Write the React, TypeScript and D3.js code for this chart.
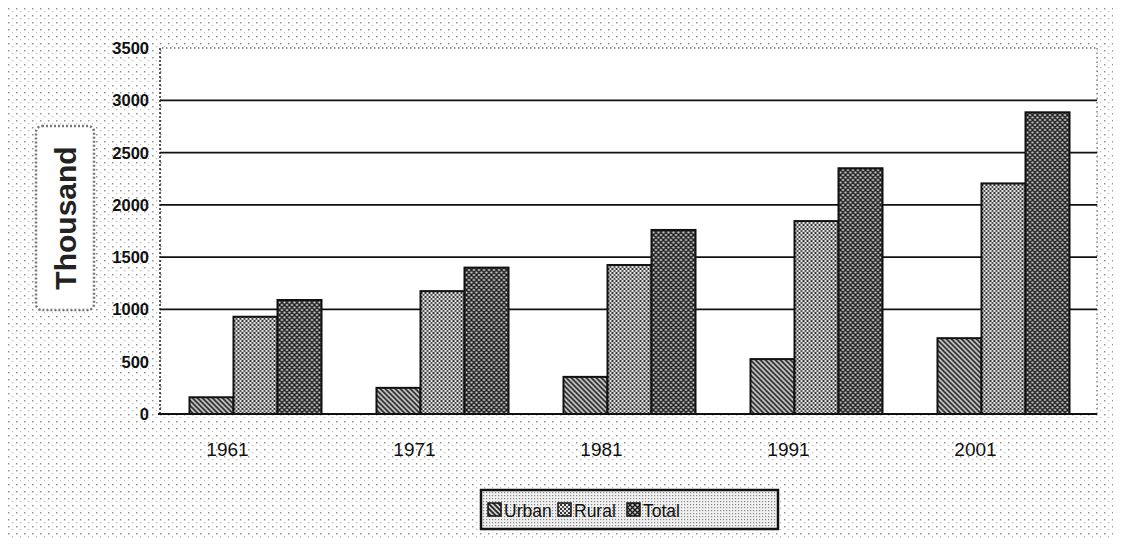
import React, { useEffect, useRef } from 'react'
import * as d3 from 'd3'

// data (thousands)
const years = ['1961', '1971', '1981', '1991', '2001']
const seriesNames = ['Urban', 'Rural', 'Total']
const urban = [160, 250, 355, 525, 725]
const rural = [930, 1175, 1425, 1845, 2205]
const total = [1090, 1400, 1760, 2350, 2885]
const yTicks = [0, 500, 1000, 1500, 2000, 2500, 3000, 3500]
const gridTicks = [1000, 1500, 2000, 2500, 3000]

const W = 1121
const H = 546
const FONT = 'Liberation Sans, Arial, sans-serif'

function drawChart(node: SVGSVGElement) {
  const svg = d3.select(node)
  svg.selectAll('*').remove()

  const defs = svg.append('defs')

  // stippled paper background
  const stip = defs.append('pattern').attr('id', 'stip')
    .attr('width', 8).attr('height', 7).attr('patternUnits', 'userSpaceOnUse')
  stip.append('rect').attr('x', 0).attr('y', 1).attr('width', 1.5).attr('height', 1.5).attr('fill', '#666')
  stip.append('rect').attr('x', 4).attr('y', 4).attr('width', 1.2).attr('height', 1.2).attr('fill', '#999')

  // legend box fill
  const lgFill = defs.append('pattern').attr('id', 'lgfill')
    .attr('width', 3).attr('height', 3).attr('patternUnits', 'userSpaceOnUse')
  lgFill.append('rect').attr('width', 3).attr('height', 3).attr('fill', '#f0f0f0')
  lgFill.append('rect').attr('width', 1.2).attr('height', 1.2).attr('fill', '#888')

  // urban: diagonal hatch
  const pU = defs.append('pattern').attr('id', 'pUrban')
    .attr('width', 5).attr('height', 5).attr('patternUnits', 'userSpaceOnUse')
  pU.append('rect').attr('width', 5).attr('height', 5).attr('fill', '#d0d0d0')
  pU.append('path').attr('d', 'M-1,-1 L6,6 M-1,4 L1,6 M4,-1 L6,1')
    .attr('stroke', '#222').attr('stroke-width', 1.7)

  // rural: check of dots
  const pR = defs.append('pattern').attr('id', 'pRural')
    .attr('width', 4).attr('height', 4).attr('patternUnits', 'userSpaceOnUse')
  pR.append('rect').attr('width', 4).attr('height', 4).attr('fill', '#e4e4e4')
  pR.append('rect').attr('x', 0).attr('y', 0).attr('width', 2).attr('height', 2).attr('fill', '#333')
  pR.append('rect').attr('x', 2).attr('y', 2).attr('width', 2).attr('height', 2).attr('fill', '#555')

  // total: dark crosshatch
  const pT = defs.append('pattern').attr('id', 'pTotal')
    .attr('width', 5).attr('height', 5).attr('patternUnits', 'userSpaceOnUse')
  pT.append('rect').attr('width', 5).attr('height', 5).attr('fill', '#c4c4c4')
  pT.append('path').attr('d', 'M-1,-1 L6,6 M6,-1 L-1,6')
    .attr('stroke', '#1a1a1a').attr('stroke-width', 1.4)

  const fills = ['url(#pUrban)', 'url(#pRural)', 'url(#pTotal)']

  // background + frame
  svg.append('rect').attr('width', W).attr('height', H).attr('fill', '#fff')
  svg.append('rect').attr('width', W).attr('height', H).attr('fill', 'url(#stip)').attr('opacity', 0.7)
  svg.append('rect').attr('x', 4).attr('y', 2).attr('width', W - 7).attr('height', H - 6)
    .attr('fill', 'none').attr('stroke', '#111').attr('stroke-width', 2)

  const x = d3.scaleBand<string>().domain(years).range([162, 1097])
    .paddingInner(0.294).paddingOuter(0.147)
  const xs = d3.scaleBand<string>().domain(seriesNames).range([0, x.bandwidth()])
  const y = d3.scaleLinear().domain([0, 3500]).range([414, 48])

  // plot area
  svg.append('rect').attr('x', 162).attr('y', y(3500)).attr('width', 935).attr('height', y(0) - y(3500))
    .attr('fill', '#fff')
  svg.append('line').attr('x1', 162).attr('x2', 1097).attr('y1', y(3500)).attr('y2', y(3500))
    .attr('stroke', '#333').attr('stroke-dasharray', '1.5,2.5')
  svg.append('line').attr('x1', 1097).attr('x2', 1097).attr('y1', y(3500)).attr('y2', y(0))
    .attr('stroke', '#444').attr('stroke-dasharray', '1.5,3')

  svg.append('g').selectAll('line').data(gridTicks).enter().append('line')
    .attr('x1', 160).attr('x2', 1097)
    .attr('y1', d => y(d)).attr('y2', d => y(d))
    .attr('stroke', '#111').attr('stroke-width', 1.7)

  // y axis
  svg.append('line').attr('x1', 160).attr('x2', 160).attr('y1', y(3500)).attr('y2', y(0))
    .attr('stroke', '#222').attr('stroke-width', 1.5).attr('stroke-dasharray', '2,2')
  svg.append('g').selectAll('text').data(yTicks).enter().append('text')
    .attr('x', 149).attr('y', d => y(d) + 6)
    .attr('text-anchor', 'end')
    .attr('font-family', FONT)
    .attr('font-size', 16.5).attr('font-weight', 'bold').attr('fill', '#111')
    .text(d => d)

  // y title with dotted box
  svg.append('rect').attr('x', 36).attr('y', 126).attr('width', 58).attr('height', 184).attr('rx', 6)
    .attr('fill', '#fff').attr('stroke', '#777').attr('stroke-width', 2.5).attr('stroke-dasharray', '2,2')
  svg.append('text')
    .attr('transform', 'translate(76,218) rotate(-90)')
    .attr('text-anchor', 'middle')
    .attr('font-family', FONT)
    .attr('font-size', 30).attr('font-weight', 'bold').attr('fill', '#222')
    .text('Thousand')

  // bars
  const table = years.map((yr, i) => ({ yr, vals: [urban[i], rural[i], total[i]] }))
  const groups = svg.append('g').selectAll('g').data(table).enter().append('g')
    .attr('transform', d => 'translate(' + x(d.yr) + ',0)')
  groups.selectAll('rect').data(d => d.vals.map((v, k) => ({ v, k }))).enter().append('rect')
    .attr('x', d => xs(seriesNames[d.k]) as number)
    .attr('width', xs.bandwidth())
    .attr('y', d => y(d.v))
    .attr('height', d => y(0) - y(d.v))
    .attr('fill', d => fills[d.k])
    .attr('stroke', '#111').attr('stroke-width', 2)

  // x axis line
  svg.append('line').attr('x1', 158).attr('x2', 1097).attr('y1', y(0)).attr('y2', y(0))
    .attr('stroke', '#111').attr('stroke-width', 2)

  // year labels (offset to the left as in the scan)
  svg.append('g').selectAll('text').data(years).enter().append('text')
    .attr('x', d => (x(d) as number) + x.bandwidth() / 2 - 28)
    .attr('y', 456)
    .attr('text-anchor', 'middle')
    .attr('font-family', FONT)
    .attr('font-size', 19).attr('fill', '#111')
    .text(d => d)

  // legend
  const lg = svg.append('g')
  lg.append('rect').attr('x', 481).attr('y', 490).attr('width', 297).attr('height', 39)
    .attr('fill', 'url(#lgfill)').attr('stroke', '#111').attr('stroke-width', 2.5)
  const lgX = [488, 558, 627]
  seriesNames.forEach((name, k) => {
    lg.append('rect').attr('x', lgX[k]).attr('y', 503).attr('width', 13).attr('height', 13)
      .attr('fill', fills[k]).attr('stroke', '#111').attr('stroke-width', 1.5)
    lg.append('text').attr('x', lgX[k] + 16).attr('y', 517)
      .attr('font-family', FONT)
      .attr('font-size', 17.5).attr('fill', '#111')
      .text(name)
  })
}

export default function App() {
  const ref = useRef<SVGSVGElement>(null)
  useEffect(() => {
    if (ref.current) drawChart(ref.current)
  }, [])
  return (
    <div style={{ margin: -8 }}>
      <svg ref={ref} width={W} height={H} style={{ display: 'block' }} />
    </div>
  )
}
